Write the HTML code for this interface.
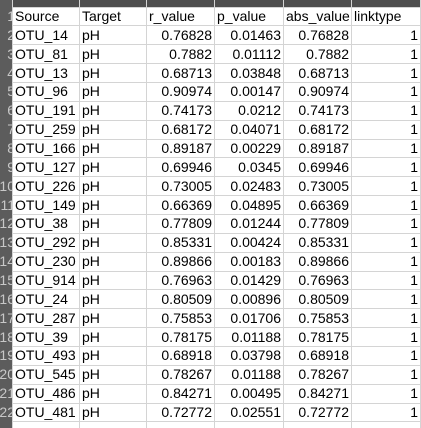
<!DOCTYPE html>
<html><head><meta charset="utf-8"><style>
body{margin:0;width:421px;height:428px;overflow:hidden;background:#fff;font-family:"Liberation Sans",Arial,sans-serif;font-size:14px;color:#000;position:relative}
.c{position:absolute;height:19px;line-height:19px;white-space:nowrap;overflow:hidden;box-sizing:border-box;padding:0 2px}
.r{text-align:right}
.v{position:absolute;top:0;width:1px;height:428px;background:#d4d4d4}
.h{position:absolute;left:0;width:421px;height:1px;background:#d4d4d4}
#colhdr{position:absolute;left:0;top:0;width:421px;height:7px;background:#4e4e4e}
#rowhdr{position:absolute;left:0;top:0;width:12px;height:428px;background:#5c5c5c}
.rn{position:absolute;left:0;width:12px;color:#c8c8c8;font-size:14px;text-align:right;line-height:19px;overflow:hidden;white-space:nowrap;direction:rtl;padding-right:0;box-sizing:border-box}
.rn span{position:relative;left:3px}
</style></head><body>
<div id="colhdr"></div>
<div id="rowhdr"></div>
<script>
const cols=[13,80,147,215,284,352,421];
const headers=["Source","Target","r_value","p_value","abs_value","linktype"];
const rows=[
["OTU_14","pH","0.76828","0.01463","0.76828","1"],
["OTU_81","pH","0.7882","0.01112","0.7882","1"],
["OTU_13","pH","0.68713","0.03848","0.68713","1"],
["OTU_96","pH","0.90974","0.00147","0.90974","1"],
["OTU_191","pH","0.74173","0.0212","0.74173","1"],
["OTU_259","pH","0.68172","0.04071","0.68172","1"],
["OTU_166","pH","0.89187","0.00229","0.89187","1"],
["OTU_127","pH","0.69946","0.0345","0.69946","1"],
["OTU_226","pH","0.73005","0.02483","0.73005","1"],
["OTU_149","pH","0.66369","0.04895","0.66369","1"],
["OTU_38","pH","0.77809","0.01244","0.77809","1"],
["OTU_292","pH","0.85331","0.00424","0.85331","1"],
["OTU_230","pH","0.89866","0.00183","0.89866","1"],
["OTU_914","pH","0.76963","0.01429","0.76963","1"],
["OTU_24","pH","0.80509","0.00896","0.80509","1"],
["OTU_287","pH","0.75853","0.01706","0.75853","1"],
["OTU_39","pH","0.78175","0.01188","0.78175","1"],
["OTU_493","pH","0.68918","0.03798","0.68918","1"],
["OTU_545","pH","0.78267","0.01188","0.78267","1"],
["OTU_486","pH","0.84271","0.00495","0.84271","1"],
["OTU_481","pH","0.72772","0.02551","0.72772","1"]];
const g=document.body;
const top0=7,rh=18.86;
function add(cls,txt,x,y,w,name,inter){const d=document.createElement('div');d.className=cls;


d.style.left=x+'px';d.style.top=y+'px';if(w)d.style.width=w+'px';if(txt!==null)d.textContent=txt;g.appendChild(d);return d;}
for(let i=0;i<=22;i++){add('h',null,12,top0+i*rh-0.5,0,'row-gridline','false').style.width='409px';}
cols.forEach(x=>add('v',null,x-1,0,0,'column-gridline','false'));
const all=[headers].concat(rows);
all.forEach((row,ri)=>{const y=top0+ri*rh;
 const rn=add('rn',null,0,y,12,'row-number','false');
 const s=document.createElement('span');s.textContent=String(ri+1);rn.appendChild(s);
 row.forEach((t,ci)=>{const numeric=ri>0&&ci>=2;
  add('c'+(numeric?' r':''),t,cols[ci],y,cols[ci+1]-cols[ci]-1,ri==0?'header-'+t.replace('_','-'):'cell-'+headers[ci].replace('_','-'),'true');});
});
</script>
</body></html>
